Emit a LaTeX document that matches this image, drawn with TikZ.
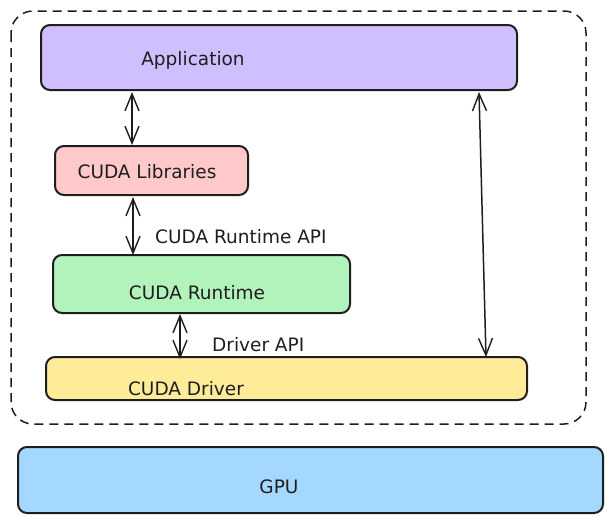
\documentclass[tikz,border=0pt]{standalone}
\usepackage{fontspec}
\setmainfont{DejaVu Sans}
\usetikzlibrary{arrows.meta}
\definecolor{cviolet}{HTML}{D0BFFF}
\definecolor{cred}{HTML}{FFC9C9}
\definecolor{cgreen}{HTML}{B2F2BB}
\definecolor{cyellow}{HTML}{FFEC99}
\definecolor{cblue}{HTML}{A5D8FF}
\definecolor{cink}{HTML}{1E1E1E}
\tikzset{
  layerbox/.style={draw=cink, line width=2pt, rounded corners=9pt},
  lbl/.style={font=\fontsize{18.5}{21}\selectfont, text=cink, inner sep=0pt},
  link/.style={draw=cink, line width=1.5pt, {Straight Barb[length=17pt,width=14pt,line width=1.4pt]}-{Straight Barb[length=17pt,width=14pt,line width=1.4pt]}},
}
\begin{document}
\begin{tikzpicture}[x=1pt,y=-1pt]
\useasboundingbox (0,0) rectangle (609,517);
% container
\draw[cink, line width=1.5pt, dash pattern=on 9pt off 6pt, rounded corners=22pt] (11,11) rectangle (586,424);
% boxes
\draw[layerbox, fill=cviolet] (41,25) rectangle (517,90);
\draw[layerbox, fill=cred] (55,146) rectangle (248,195);
\draw[layerbox, fill=cgreen] (53,255) rectangle (350,313);
\draw[layerbox, fill=cyellow] (46,357) rectangle (527,400);
\draw[layerbox, fill=cblue] (18,447) rectangle (603,513);
% anchors for connectors
\coordinate (appL) at (132,92);
\coordinate (libT) at (132,145);
\coordinate (libB) at (133,197);
\coordinate (rtT) at (133,255);
\coordinate (rtB) at (180,314);
\coordinate (drT) at (180,359);
\coordinate (appR) at (479,92);
\coordinate (drR) at (486,357);
% texts
\node[lbl] (tapp) at (193,60) {Application};
\node[lbl] (tlib) at (147,172) {CUDA Libraries};
\node[lbl] (trt) at (197,293) {CUDA Runtime};
\node[lbl] (tdr) at (186,389) {CUDA Driver};
\node[lbl] (tgpu) at (279,487) {GPU};
\node[lbl, anchor=west] (trapi) at (155,237) {CUDA Runtime API};
\node[lbl, anchor=west] (tdapi) at (212,345) {Driver API};
% connectors
\draw[link] (appL) -- (libT);
\draw[link] (libB) -- (rtT);
\draw[link] (rtB) -- (drT);
\draw[link] (appR) -- (drR);
\end{tikzpicture}
\end{document}
